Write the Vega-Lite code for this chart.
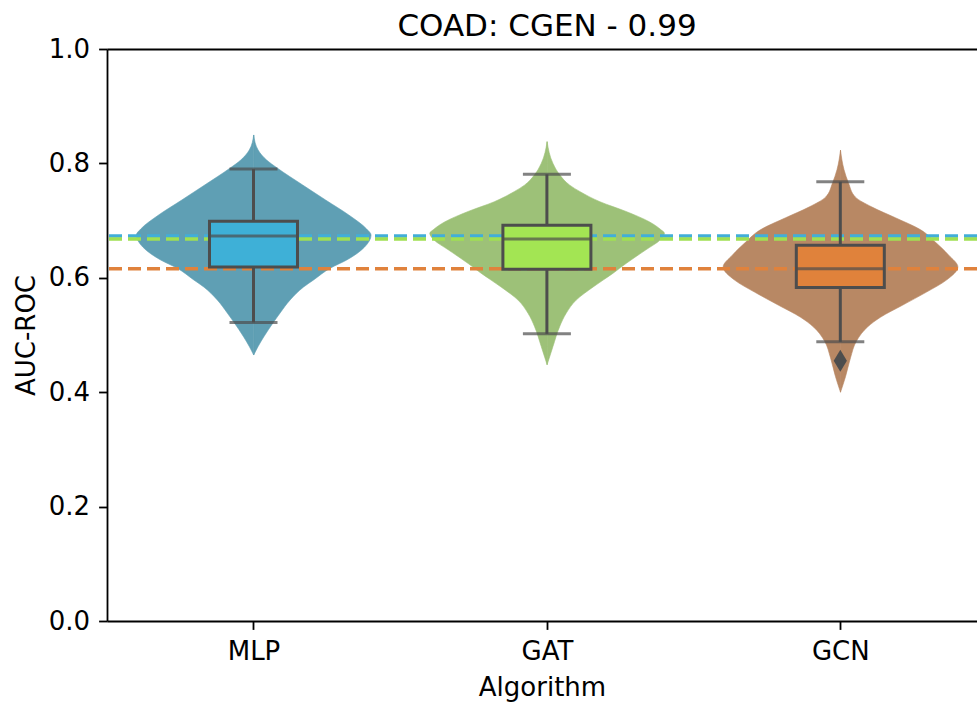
{
  "$schema": "https://vega.github.io/schema/vega-lite/v6.json",
  "width": 870,
  "height": 572,
  "autosize": {"type": "none"},
  "padding": {"left": 107, "top": 49, "right": 0, "bottom": 83},
  "background": "white",
  "config": {
    "font": "DejaVu Sans",
    "view": {"stroke": null},
    "axis": {
      "grid": false,
      "domainColor": "black",
      "domainWidth": 1.8,
      "tickColor": "black",
      "tickWidth": 1.8,
      "tickSize": 8.4,
      "labelFont": "DejaVu Sans",
      "labelFontSize": 26,
      "labelColor": "black",
      "labelPadding": 9,
      "titleFont": "DejaVu Sans",
      "titleFontSize": 26,
      "titleFontWeight": "normal",
      "titleColor": "black"
    }
  },
  "title": {
    "text": "COAD: CGEN - 0.99",
    "font": "DejaVu Sans",
    "fontSize": 31,
    "fontWeight": "normal",
    "color": "black",
    "anchor": "middle",
    "frame": "group",
    "baseline": "alphabetic",
    "offset": 12,
    "dx": 5,
    "dy": 43
  },
  "datasets": {
    "violin": [
      {"algorithm": "MLP", "auc": 0.465, "width": 0.0},
      {"algorithm": "MLP", "auc": 0.479, "width": 0.014},
      {"algorithm": "MLP", "auc": 0.4965, "width": 0.034},
      {"algorithm": "MLP", "auc": 0.5227, "width": 0.068},
      {"algorithm": "MLP", "auc": 0.5385, "width": 0.09},
      {"algorithm": "MLP", "auc": 0.5612, "width": 0.124},
      {"algorithm": "MLP", "auc": 0.5839, "width": 0.17},
      {"algorithm": "MLP", "auc": 0.5962, "width": 0.204},
      {"algorithm": "MLP", "auc": 0.6171, "width": 0.262},
      {"algorithm": "MLP", "auc": 0.6311, "width": 0.317},
      {"algorithm": "MLP", "auc": 0.6538, "width": 0.378},
      {"algorithm": "MLP", "auc": 0.6748, "width": 0.4},
      {"algorithm": "MLP", "auc": 0.6853, "width": 0.385},
      {"algorithm": "MLP", "auc": 0.7098, "width": 0.324},
      {"algorithm": "MLP", "auc": 0.736, "width": 0.245},
      {"algorithm": "MLP", "auc": 0.7622, "width": 0.167},
      {"algorithm": "MLP", "auc": 0.792, "width": 0.08},
      {"algorithm": "MLP", "auc": 0.8059, "width": 0.044},
      {"algorithm": "MLP", "auc": 0.8234, "width": 0.015},
      {"algorithm": "MLP", "auc": 0.8497, "width": 0.0},
      {"algorithm": "GAT", "auc": 0.448, "width": 0.0},
      {"algorithm": "GAT", "auc": 0.48, "width": 0.02},
      {"algorithm": "GAT", "auc": 0.515, "width": 0.043},
      {"algorithm": "GAT", "auc": 0.538, "width": 0.065},
      {"algorithm": "GAT", "auc": 0.561, "width": 0.099},
      {"algorithm": "GAT", "auc": 0.584, "width": 0.157},
      {"algorithm": "GAT", "auc": 0.608, "width": 0.225},
      {"algorithm": "GAT", "auc": 0.625, "width": 0.269},
      {"algorithm": "GAT", "auc": 0.649, "width": 0.337},
      {"algorithm": "GAT", "auc": 0.666, "width": 0.385},
      {"algorithm": "GAT", "auc": 0.678, "width": 0.4},
      {"algorithm": "GAT", "auc": 0.684, "width": 0.388},
      {"algorithm": "GAT", "auc": 0.698, "width": 0.348},
      {"algorithm": "GAT", "auc": 0.716, "width": 0.269},
      {"algorithm": "GAT", "auc": 0.733, "width": 0.18},
      {"algorithm": "GAT", "auc": 0.751, "width": 0.111},
      {"algorithm": "GAT", "auc": 0.762, "width": 0.077},
      {"algorithm": "GAT", "auc": 0.78, "width": 0.043},
      {"algorithm": "GAT", "auc": 0.8, "width": 0.02},
      {"algorithm": "GAT", "auc": 0.838, "width": 0.0},
      {"algorithm": "GCN", "auc": 0.4, "width": 0.0},
      {"algorithm": "GCN", "auc": 0.427, "width": 0.017},
      {"algorithm": "GCN", "auc": 0.46, "width": 0.034},
      {"algorithm": "GCN", "auc": 0.49, "width": 0.055},
      {"algorithm": "GCN", "auc": 0.514, "width": 0.092},
      {"algorithm": "GCN", "auc": 0.531, "width": 0.136},
      {"algorithm": "GCN", "auc": 0.552, "width": 0.211},
      {"algorithm": "GCN", "auc": 0.575, "width": 0.293},
      {"algorithm": "GCN", "auc": 0.596, "width": 0.361},
      {"algorithm": "GCN", "auc": 0.619, "width": 0.4},
      {"algorithm": "GCN", "auc": 0.64, "width": 0.368},
      {"algorithm": "GCN", "auc": 0.662, "width": 0.324},
      {"algorithm": "GCN", "auc": 0.684, "width": 0.273},
      {"algorithm": "GCN", "auc": 0.705, "width": 0.187},
      {"algorithm": "GCN", "auc": 0.724, "width": 0.106},
      {"algorithm": "GCN", "auc": 0.741, "width": 0.051},
      {"algorithm": "GCN", "auc": 0.766, "width": 0.027},
      {"algorithm": "GCN", "auc": 0.789, "width": 0.012},
      {"algorithm": "GCN", "auc": 0.823, "width": 0.0}
    ],
    "stats": [
      {"algorithm": "MLP", "lower": 0.522, "q1": 0.619, "median": 0.673, "q3": 0.699, "upper": 0.79},
      {"algorithm": "GAT", "lower": 0.502, "q1": 0.615, "median": 0.668, "q3": 0.692, "upper": 0.781},
      {"algorithm": "GCN", "lower": 0.488, "q1": 0.583, "median": 0.616, "q3": 0.657, "upper": 0.768}
    ],
    "outliers": [
      {"algorithm": "GCN", "auc": 0.455}
    ]
  },
  "layer": [
    {
      "data": {"name": "violin"},
      "transform": [{"filter": "datum.algorithm === 'MLP'"}],
      "mark": {"type": "area", "orient": "horizontal", "interpolate": "monotone", "color": "#5f9fb4", "stroke": "#5f9fb4", "strokeWidth": 0.6},
      "encoding": {
        "y": {
          "field": "auc", "type": "quantitative",
          "scale": {"domain": [0, 1], "nice": false, "zero": false},
          "axis": {"values": [0, 0.2, 0.4, 0.6, 0.8, 1.0], "format": ".1f", "title": "AUC-ROC", "titlePadding": 9}
        },
        "x": {
          "field": "width", "type": "quantitative",
          "scale": {"domain": [-0.5, 2.4652], "nice": false, "zero": false},
          "axis": {"orient": "top", "labels": false, "ticks": false, "title": null, "domain": true}
        },
        "x2": {"datum": 0}
      }
    },
    {
      "data": {"name": "violin"},
      "transform": [{"filter": "datum.algorithm === 'MLP'"}],
      "mark": {"type": "area", "orient": "horizontal", "interpolate": "monotone", "color": "#5f9fb4", "stroke": "#5f9fb4", "strokeWidth": 0.6},
      "encoding": {
        "y": {"field": "auc", "type": "quantitative", "axis": null},
        "x": {"field": "width", "type": "quantitative", "scale": {"domain": [-2.4652, 0.5], "reverse": true, "nice": false, "zero": false}, "axis": null},
        "x2": {"datum": 0}
      }
    },
    {
      "data": {"name": "violin"},
      "transform": [{"filter": "datum.algorithm === 'GAT'"}],
      "mark": {"type": "area", "orient": "horizontal", "interpolate": "monotone", "color": "#9dc178", "stroke": "#9dc178", "strokeWidth": 0.6},
      "encoding": {
        "y": {"field": "auc", "type": "quantitative", "axis": null},
        "x": {"field": "width", "type": "quantitative", "scale": {"domain": [-1.5, 1.4652], "nice": false, "zero": false}, "axis": null},
        "x2": {"datum": 0}
      }
    },
    {
      "data": {"name": "violin"},
      "transform": [{"filter": "datum.algorithm === 'GAT'"}],
      "mark": {"type": "area", "orient": "horizontal", "interpolate": "monotone", "color": "#9dc178", "stroke": "#9dc178", "strokeWidth": 0.6},
      "encoding": {
        "y": {"field": "auc", "type": "quantitative", "axis": null},
        "x": {"field": "width", "type": "quantitative", "scale": {"domain": [-1.4652, 1.5], "reverse": true, "nice": false, "zero": false}, "axis": null},
        "x2": {"datum": 0}
      }
    },
    {
      "data": {"name": "violin"},
      "transform": [{"filter": "datum.algorithm === 'GCN'"}],
      "mark": {"type": "area", "orient": "horizontal", "interpolate": "monotone", "color": "#b88864", "stroke": "#b88864", "strokeWidth": 0.6},
      "encoding": {
        "y": {"field": "auc", "type": "quantitative", "axis": null},
        "x": {"field": "width", "type": "quantitative", "scale": {"domain": [-2.5, 0.4652], "nice": false, "zero": false}, "axis": null},
        "x2": {"datum": 0}
      }
    },
    {
      "data": {"name": "violin"},
      "transform": [{"filter": "datum.algorithm === 'GCN'"}],
      "mark": {"type": "area", "orient": "horizontal", "interpolate": "monotone", "color": "#b88864", "stroke": "#b88864", "strokeWidth": 0.6},
      "encoding": {
        "y": {"field": "auc", "type": "quantitative", "axis": null},
        "x": {"field": "width", "type": "quantitative", "scale": {"domain": [-0.4652, 2.5], "reverse": true, "nice": false, "zero": false}, "axis": null},
        "x2": {"datum": 0}
      }
    },
    {
      "data": {"name": "stats"},
      "mark": {"type": "rule", "strokeWidth": 3.5, "strokeDash": [13, 6]},
      "encoding": {
        "y": {"field": "median", "type": "quantitative", "axis": null},
        "color": {
          "field": "algorithm", "type": "nominal",
          "scale": {"domain": ["MLP", "GAT", "GCN"], "range": ["#42aed8", "#a0e052", "#e0823c"]},
          "legend": null
        }
      }
    },
    {
      "data": {"name": "stats"},
      "mark": {"type": "rule", "color": "#4d4d4d", "strokeWidth": 3},
      "encoding": {
        "x": {
          "field": "algorithm", "type": "nominal", "sort": ["MLP", "GAT", "GCN"],
          "scale": {"type": "point", "domain": ["MLP", "GAT", "GCN"], "padding": 0.4826, "align": 0.5173},
          "axis": {"title": "Algorithm", "labelAngle": 0, "titlePadding": 10}
        },
        "y": {"field": "lower", "type": "quantitative", "axis": null},
        "y2": {"field": "upper"}
      }
    },
    {
      "data": {"name": "stats"},
      "transform": [{"fold": ["lower", "upper"], "as": ["which", "cap"]}],
      "mark": {"type": "tick", "orient": "horizontal", "color": "#4d4d4d", "size": 48, "thickness": 3},
      "encoding": {
        "x": {
          "field": "algorithm", "type": "nominal", "sort": ["MLP", "GAT", "GCN"],
          "scale": {"type": "point", "domain": ["MLP", "GAT", "GCN"], "padding": 0.4826, "align": 0.5173},
          "axis": null
        },
        "y": {"field": "cap", "type": "quantitative", "axis": null}
      }
    },
    {
      "data": {"name": "stats"},
      "mark": {"type": "bar", "size": 88, "stroke": "#4d4d4d", "strokeWidth": 3},
      "encoding": {
        "x": {
          "field": "algorithm", "type": "nominal", "sort": ["MLP", "GAT", "GCN"],
          "scale": {"type": "point", "domain": ["MLP", "GAT", "GCN"], "padding": 0.4826, "align": 0.5173},
          "axis": null
        },
        "y": {"field": "q1", "type": "quantitative", "axis": null},
        "y2": {"field": "q3"},
        "fill": {
          "field": "algorithm", "type": "nominal",
          "scale": {"domain": ["MLP", "GAT", "GCN"], "range": ["#3eb0d7", "#a3e553", "#e0823b"]},
          "legend": null
        }
      }
    },
    {
      "data": {"name": "stats"},
      "mark": {"type": "tick", "orient": "horizontal", "color": "#4d4d4d", "size": 88, "thickness": 3},
      "encoding": {
        "x": {
          "field": "algorithm", "type": "nominal", "sort": ["MLP", "GAT", "GCN"],
          "scale": {"type": "point", "domain": ["MLP", "GAT", "GCN"], "padding": 0.4826, "align": 0.5173},
          "axis": null
        },
        "y": {"field": "median", "type": "quantitative", "axis": null}
      }
    },
    {
      "data": {"name": "outliers"},
      "mark": {"type": "point", "shape": "M0,-1L0.6,0L0,1L-0.6,0Z", "size": 484, "filled": true, "color": "#4d4d4d", "opacity": 1},
      "encoding": {
        "x": {
          "field": "algorithm", "type": "nominal", "sort": ["MLP", "GAT", "GCN"],
          "scale": {"type": "point", "domain": ["MLP", "GAT", "GCN"], "padding": 0.4826, "align": 0.5173},
          "axis": null
        },
        "y": {"field": "auc", "type": "quantitative", "axis": null}
      }
    }
  ],
  "resolve": {"scale": {"x": "independent"}, "axis": {"x": "independent", "y": "independent"}}
}
